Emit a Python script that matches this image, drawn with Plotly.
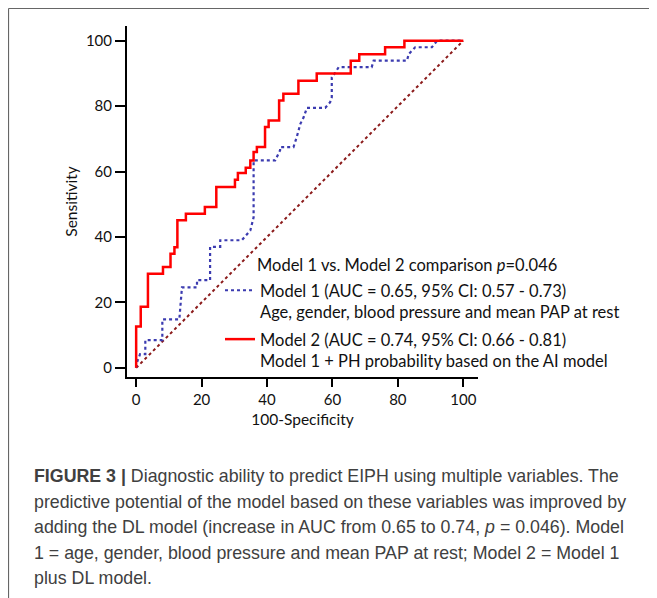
import plotly.graph_objects as go

# ---- data (100-Specificity, Sensitivity) ----
m2_fpr = [0, 0, 1.4, 1.4, 3.6, 3.6, 8.2, 8.2, 10.5, 10.5, 11.7, 11.7, 12.6, 12.6,
          15.2, 15.2, 21.0, 21.0, 24.5, 24.5, 30.2, 30.2, 31.1, 31.1, 33.5, 33.5,
          34.9, 34.9, 35.9, 35.9, 36.9, 36.9, 39.4, 39.4, 40.5, 40.5, 43.7, 43.7,
          45.0, 45.0, 49.6, 49.6, 55.2, 55.2, 65.6, 65.6, 68.2, 68.2, 76.1, 76.1,
          82.0, 82.0, 100]
m2_tpr = [0, 12.6, 12.6, 18.7, 18.7, 28.8, 28.8, 30.8, 30.8, 34.9, 34.9, 36.9, 36.9, 45.1,
          45.1, 47.1, 47.1, 49.2, 49.2, 55.3, 55.3, 57.5, 57.5, 59.6, 59.6, 61.2,
          61.2, 63.4, 63.4, 66.0, 66.0, 67.5, 67.5, 73.6, 73.6, 75.6, 75.6, 81.7,
          81.7, 83.8, 83.8, 87.8, 87.8, 90.0, 90.0, 93.9, 93.9, 95.9, 95.9, 98.0,
          98.0, 100, 100]

m1_fpr = [0, 0.4, 1.2, 2.8, 2.8, 8.0, 8.0, 13.2, 13.5, 13.8, 14.0, 18.6, 18.6, 22.6,
          22.6, 25.7, 25.7, 32.3, 33.5, 34.9, 35.9, 35.9, 42.5, 44.0, 44.0, 48.1,
          49.1, 50.2, 51.2, 52.2, 57.8, 59.3, 59.8, 59.8, 60.9, 61.9, 72.0, 72.6,
          82.8, 83.3, 84.8, 85.3, 90.4, 91.4, 92.0, 100]
m1_tpr = [0, 2.1, 4.2, 4.2, 8.5, 8.5, 14.8, 14.8, 18.5, 22.5, 24.6, 24.6, 26.8, 26.8,
          37.0, 37.0, 39.0, 39.0, 40.5, 42.0, 46.0, 63.4, 63.4, 66.5, 67.5, 67.5,
          70.6, 74.6, 76.6, 79.5, 79.5, 81.2, 82.7, 88.8, 90.3, 91.9, 91.9, 93.9,
          93.9, 95.9, 97.5, 98.0, 98.0, 99.2, 100, 100]

ref_x = [0, 100]
ref_y = [0, 100]

tick_vals = [0, 20, 40, 60, 80, 100]

legend_title = "Model 1 vs. Model 2 comparison <i>p</i>=0.046"
m1_name = "Model 1 (AUC = 0.65, 95% CI: 0.57 - 0.73)<br>Age, gender, blood pressure and mean PAP at rest"
m2_name = "Model 2 (AUC = 0.74, 95% CI: 0.66 - 0.81)<br>Model 1 + PH probability based on the AI model"

caption_lines = [
    "<b>FIGURE 3 |</b> Diagnostic ability to predict EIPH using multiple variables. The",
    "predictive potential of the model based on these variables was improved by",
    "adding the DL model (increase in AUC from 0.65 to 0.74, <i>p</i> = 0.046). Model",
    "1 = age, gender, blood pressure and mean PAP at rest; Model 2 = Model 1",
    "plus DL model.",
]

FONT = "Lato"
OFF = 8  # page body margin
W, H = 657 - OFF, 598 - OFF
L, T, PW, PH = 127 - OFF, 26 - OFF, 351, 351


def px(xp):
    return (xp - OFF - L) / PW


def py(yp):
    return 1 - (yp - OFF - T) / PH


fig = go.Figure()
fig.add_trace(go.Scatter(x=ref_x, y=ref_y, mode="lines", showlegend=False,
                         line=dict(color="#8b1a1a", width=2, dash="dot"),
                         hoverinfo="skip"))
fig.add_trace(go.Scatter(x=m1_fpr, y=m1_tpr, mode="lines", name=m1_name,
                         line=dict(color="#3b3bb0", width=2.2, dash="dot"),
                         legendgroup="a"))
fig.add_trace(go.Scatter(x=m2_fpr, y=m2_tpr, mode="lines", name=m2_name,
                         line=dict(color="#ff0000", width=2.5),
                         legendgroup="b"))

axis_common = dict(
    showgrid=False, zeroline=False, showline=True, linecolor="black", linewidth=2,
    ticks="outside", tickcolor="black", tickwidth=1.5,
    tickvals=tick_vals, tickfont=dict(family=FONT, size=15, color="#111"),
)
fig.update_xaxes(range=[-2.8, 104.5], ticklen=8, title=dict(text="100-Specificity",
                 font=dict(family=FONT, size=15.5, color="#111"), standoff=7), **axis_common)
fig.update_yaxes(range=[-2.8, 104.5], ticklen=10, title=dict(text="Sensitivity",
                 font=dict(family=FONT, size=15.5, color="#111"), standoff=4), **axis_common)

annotations = [
    dict(text=legend_title, xref="paper", yref="paper",
         x=px(255), y=py(265), xanchor="left", yanchor="middle",
         showarrow=False, font=dict(family=FONT, size=16.5, color="#111")),
]
for i, line in enumerate(caption_lines):
    yc = 476 + i * 25.5
    annotations.append(dict(text=line, xref="paper", yref="paper",
                            x=px(32), y=py(yc),
                            xanchor="left", yanchor="middle", showarrow=False,
                            font=dict(family="Liberation Sans", size=17.8, color="#404040")))

shapes = [
    dict(type="line", xref="paper", yref="paper", x0=px(8.5), x1=px(670),
         y0=py(8.5), y1=py(8.5), line=dict(color="#666", width=1.2)),
    dict(type="line", xref="paper", yref="paper", x0=px(8.5), x1=px(8.5),
         y0=py(8.5), y1=py(610), line=dict(color="#666", width=1.2)),
]

fig.update_layout(
    width=W, height=H,
    margin=dict(l=L, r=W - L - PW, t=T, b=H - T - PH),
    paper_bgcolor="white", plot_bgcolor="white",
    showlegend=True,
    legend=dict(x=px(220), y=py(273), xanchor="left", yanchor="top",
                bgcolor="rgba(0,0,0,0)", valign="top", tracegroupgap=3,
                traceorder="grouped",
                font=dict(family=FONT, size=16.5, color="#111")),
    annotations=annotations, shapes=shapes,
)

fig.write_html("out.html")
